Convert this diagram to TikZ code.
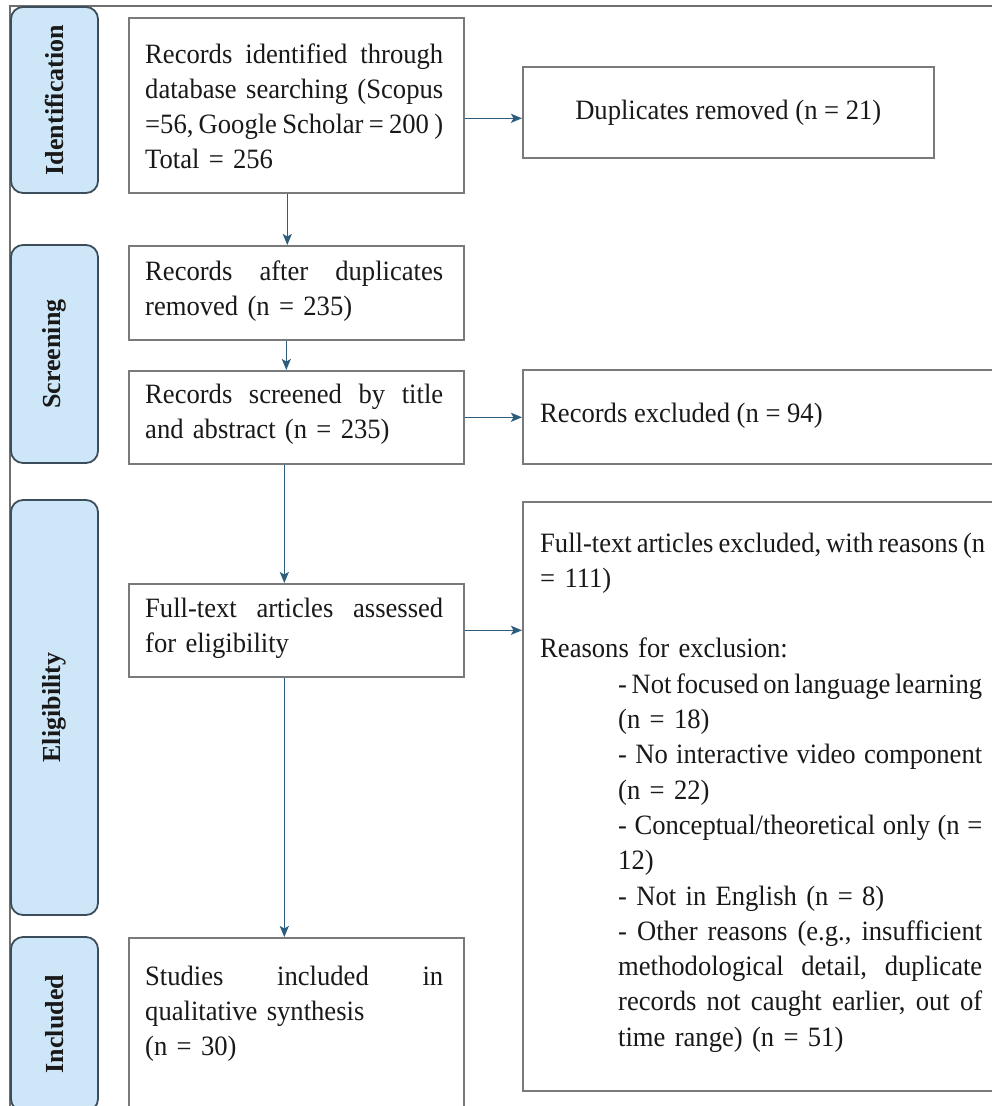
\documentclass[tikz,border=0pt]{standalone}
\usepackage{fontspec}
\setmainfont{Liberation Serif}[FakeStretch=0.95]
\newfontfamily\lblfont{Liberation Serif}
\usetikzlibrary{arrows.meta}
\definecolor{lblfill}{RGB}{205,230,248}
\definecolor{lbldraw}{RGB}{60,78,92}
\definecolor{boxdraw}{RGB}{122,122,122}
\definecolor{arrcol}{RGB}{45,92,125}
\definecolor{framecol}{RGB}{110,110,110}
\definecolor{txtcol}{RGB}{25,25,25}
\newcommand\jlw[2]{{\frenchspacing\spaceskip=0.25em plus 1fil minus 0.17em\relax\xspaceskip=\spaceskip\makebox[#1][s]{#2}}}
\newcommand\jl[1]{\jlw{298pt}{#1}}
\newcommand\ind{\hspace*{78pt}}
\newcommand\ijl[1]{\ind\jlw{364pt}{#1}}
\begin{document}
\begin{tikzpicture}[x=1pt,y=-1pt,
  mbox/.style={draw=boxdraw, line width=1.6pt, rectangle, anchor=north west, inner sep=0pt, text=txtcol, font=\fontsize{28pt}{35.3pt}\selectfont},
  lbl/.style={draw=lbldraw, fill=lblfill, line width=1.8pt, rounded corners=12pt, rotate=90, inner sep=0pt, text=txtcol, font=\lblfont\fontsize{26pt}{30pt}\selectfont\bfseries},
  txt/.style={anchor=base west, inner sep=0pt, align=left, text=txtcol, font=\fontsize{28pt}{35.3pt}\selectfont},
  arr/.style={draw=arrcol, line width=1.6pt, -{Stealth[length=11pt,width=9pt,inset=2.5pt]}},
]
\useasboundingbox (0,0) rectangle (992,1106);
\clip (0,0) rectangle (992,1106);
\fill[white] (0,0) rectangle (992,1106);

% frame
\draw[framecol, line width=1.8pt] (10,1120) -- (10,6) -- (1005,6);

% stage labels
\node[lbl, minimum width=186pt, minimum height=87pt] (L1) at (54.5,100) {Identification};
\node[lbl, minimum width=218pt, minimum height=87pt] (L2) at (54.5,354) {Screening};
\node[lbl, minimum width=415pt, minimum height=87pt] (L3) at (54.5,707.5) {Eligibility};
\node[lbl, minimum width=174pt, minimum height=87pt] (L4) at (54.5,1024) {Included};

% main column boxes
\node[mbox, minimum width=335pt, minimum height=175pt] (b1) at (128,17) {};
\node[mbox, minimum width=335pt, minimum height=94pt] (b2) at (128,245) {};
\node[mbox, minimum width=335pt, minimum height=93pt] (b3) at (128,370) {};
\node[mbox, minimum width=335pt, minimum height=93pt] (b4) at (128,583) {};
\node[mbox, minimum width=335pt, minimum height=185pt] (b5) at (128,937) {};

% right column boxes
\node[mbox, minimum width=411pt, minimum height=91pt] (dup) at (522,66) {Duplicates removed (n = 21)};
\node[mbox, minimum width=480pt, minimum height=94pt] (rx) at (522,369) {};
\node[mbox, minimum width=480pt, minimum height=589pt] (fx) at (522,501) {};

% texts
\node[txt, text width=298pt] (t1) at (145,63) {\jl{Records identified through}\\\jl{database searching (Scopus}\\\jl{=56, Google Scholar = 200 )}\\Total = 256};
\node[txt, text width=298pt] (t2) at (145,280) {\jl{Records after duplicates}\\removed (n = 235)};
\node[txt, text width=298pt] (t3) at (145,403) {\jl{Records screened by title}\\and abstract (n = 235)};
\node[txt, text width=298pt] (t4) at (145,617) {\jl{Full-text articles assessed}\\for eligibility};
\node[txt, text width=298pt] (t5) at (145,985) {\jl{Studies included in}\\qualitative synthesis\\(n = 30)};
\node[txt] (t6) at (540,422) {Records excluded (n = 94)};
\node[txt, text width=445pt] (t7) at (540,552) {\jlw{445pt}{Full-text articles excluded, with reasons (n}\\
= 111)\\[35.3pt]
Reasons for exclusion:\\
\ijl{- Not focused on language learning}\\
\ind(n = 18)\\
\ijl{- No interactive video component}\\
\ind(n = 22)\\
\ijl{- Conceptual/theoretical only (n =}\\
\ind 12)\\
\ind- Not in English (n = 8)\\
\ijl{- Other reasons (e.g., insufficient}\\
\ijl{methodological detail, duplicate}\\
\ijl{records not caught earlier, out of}\\
\ind time range) (n = 51)};

% connectors
\coordinate (a1) at ([yshift=-13pt]b1.east);
\draw[arr] (a1) -- (a1 -| dup.west);
\draw[arr] ([xshift=-9pt]b1.south) -- ([xshift=-9pt]b2.north);
\draw[arr] ([xshift=-10pt]b2.south) -- ([xshift=-10pt]b3.north);
\draw[arr] (b3.east) -- (b3.east -| rx.west);
\draw[arr] ([xshift=-12pt]b3.south) -- ([xshift=-12pt]b4.north);
\draw[arr] (b4.east) -- (b4.east -| fx.west);
\draw[arr] ([xshift=-12pt]b4.south) -- ([xshift=-12pt]b5.north);
\end{tikzpicture}
\end{document}
